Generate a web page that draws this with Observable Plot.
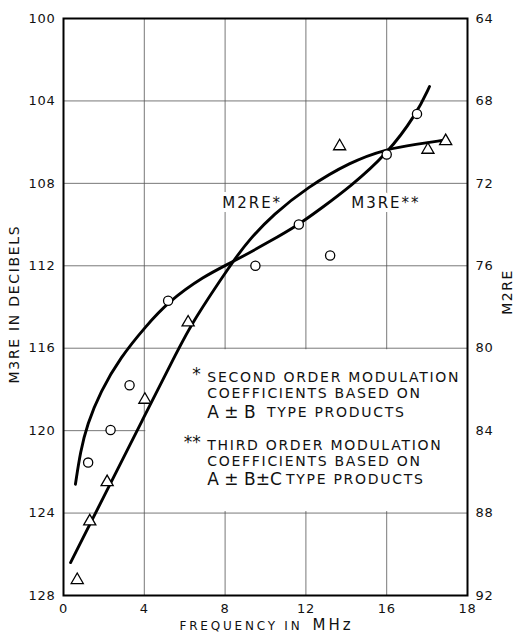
<!DOCTYPE html>
<html><head><meta charset="utf-8">
<script src="https://cdn.jsdelivr.net/npm/d3@7"></script>
<script src="https://cdn.jsdelivr.net/npm/@observablehq/plot@0.6"></script>
<style>
html,body{margin:0;padding:0;background:#fff;}
#chart svg{display:block;}
</style></head><body><div id="chart"></div>
<script>
// ---- tick labels ----
const xTicks = [0, 4, 8, 12, 16, 18];
const yTicks = [100, 104, 108, 112, 116, 120, 124, 128];       // M3RE in decibels (left)
const m2reTicks = [64, 68, 72, 76, 80, 84, 88, 92];             // M2RE (right)

// ---- measured points: M3RE (circles, left axis) ----
const circleFreq = [1.22, 2.33, 3.27, 5.18, 9.5, 11.65, 13.2, 16.0, 16.75];
const circleM3RE = [121.55, 119.97, 117.8, 113.7, 112.0, 110.0, 111.5, 106.6, 104.63];

// ---- measured points: M2RE (triangles, right axis) ----
const triFreq = [0.68, 1.3, 2.16, 4.03, 6.17, 13.67, 17.02, 17.46];
const triM2RE = [91.25, 88.4, 86.5, 82.5, 78.75, 70.2, 70.37, 69.95];

// ---- fitted curves ----
const m3reCurveFreq = [0.59, 0.84, 1.17, 1.83, 2.82, 4.06, 5.18, 6.95, 8.35, 10.25, 11.65, 12.72, 14.21, 16.0, 16.74, 17.06];
const m3reCurveVal  = [122.6, 121.0, 119.7, 118.1, 116.44, 114.95, 113.75, 112.5, 111.83, 110.8, 110.0, 109.24, 108.15, 106.6, 104.63, 103.3];
const m2reCurveFreq = [0.35, 2.1, 3.9, 5.71, 6.37, 8.35, 9.15, 10.4, 12.06, 14.21, 16.0, 16.74, 17.37];
const m2reCurveVal  = [90.4, 87.0, 83.5, 80.0, 78.75, 75.83, 74.78, 73.5, 72.2, 70.95, 70.33, 70.1, 69.92];

// ---- annotation texts ----
const seriesLabels = [
  {text: "M2RE*", f: 9.34, v: 108.98},
  {text: "M3RE**", f: 15.96, v: 108.97}
];
const noteSmall = [
  {text: "SECOND ORDER MODULATION", f: 7.12, v: 117.41},
  {text: "COEFFICIENTS BASED ON", f: 7.12, v: 118.2},
  {text: "TYPE PRODUCTS", f: 10.08, v: 119.11},
  {text: "THIRD ORDER MODULATION", f: 7.12, v: 120.73},
  {text: "COEFFICIENTS BASED ON", f: 7.12, v: 121.49},
  {text: "TYPE PRODUCTS", f: 11.02, v: 122.38}
];
const noteLarge = [
  {text: "A ± B", f: 7.12, v: 119.11},
  {text: "A ± B±C", f: 7.12, v: 122.38}
];
const noteStars = [
  {text: "*", f: 6.8, v: 117.3},
  {text: "**", f: 6.8, v: 120.6}
];
const noteBox = {x1: 4, x2: 18, y1: 116, y2: 124};
const xTitle = ["FREQUENCY IN", "MHz"];
const yTitle = "M3RE IN DECIBELS";
const y2Title = "M2RE";

// ---- build tables ----
const offset = yTicks[0] - m2reTicks[0]; // M3RE dB scale vs M2RE scale
const circles = circleFreq.map((f, i) => ({f, v: circleM3RE[i]}));
const triangles = triFreq.map((f, i) => ({f, v: triM2RE[i] + offset}));
const m3reCurve = m3reCurveFreq.map((f, i) => ({f, v: m3reCurveVal[i]}));
const m2reCurve = m2reCurveFreq.map((f, i) => ({f, v: m2reCurveVal[i] + offset}));

const W = 514, H = 635, mL = 63, mR = 47, mT = 18, mB = 40;
const x16 = mL + (W - mL - mR) * 0.8;

const chart = Plot.plot({
  width: W, height: H,
  marginLeft: mL, marginRight: mR, marginTop: mT, marginBottom: mB,
  style: {fontFamily: "'DejaVu Sans', sans-serif", fontSize: "13px", color: "#111", background: "#fff"},
  x: {type: "linear", domain: [0, 16, 18], range: [mL, x16, W - mR]},
  y: {type: "linear", domain: [yTicks[0], yTicks[yTicks.length - 1]], range: [mT, H - mB]},
  marks: [
    Plot.ruleX(xTicks.slice(1, -1), {stroke: "#555", strokeWidth: 0.8}),
    Plot.ruleY(yTicks.slice(1, -1), {stroke: "#555", strokeWidth: 0.8}),
    Plot.rect([noteBox], {x1: "x1", x2: "x2", y1: "y1", y2: "y2", fill: "white", insetLeft: 1.5, insetTop: 1.5, insetBottom: 1.5}),
    Plot.text(seriesLabels, {x: "f", y: "v", text: "text", fontSize: 15, fill: "#111", stroke: "white", strokeWidth: 8}),
    Plot.text(noteSmall, {x: "f", y: "v", text: "text", fontSize: 14, textAnchor: "start", fill: "#111"}),
    Plot.text(noteLarge, {x: "f", y: "v", text: "text", fontSize: 17, textAnchor: "start", fill: "#111"}),
    Plot.text(noteStars, {x: "f", y: "v", text: "text", fontSize: 17, textAnchor: "end", fill: "#111"}),
    Plot.text([yTitle], {text: d => d, frameAnchor: "left", dx: -49, dy: -3, rotate: -90, textAnchor: "middle", lineAnchor: "middle", fontSize: 14, fill: "#111"}),
    Plot.text([y2Title], {text: d => d, frameAnchor: "right", dx: 40, dy: -15, rotate: -90, textAnchor: "middle", lineAnchor: "middle", fontSize: 14, fill: "#111"}),
    Plot.text([xTitle[0]], {text: d => d, frameAnchor: "bottom", dx: 37, dy: 31, textAnchor: "end", lineAnchor: "middle", fontSize: 12, fill: "#111"}),
    Plot.text([xTitle[1]], {text: d => d, frameAnchor: "bottom", dx: 47, dy: 30, textAnchor: "start", lineAnchor: "middle", fontSize: 15, fill: "#111"}),
    Plot.line(m3reCurve, {x: "f", y: "v", curve: "basis", stroke: "black", strokeWidth: 2.9}),
    Plot.line(m2reCurve, {x: "f", y: "v", curve: "basis", stroke: "black", strokeWidth: 2.9}),
    Plot.dot(circles, {x: "f", y: "v", r: 4.6, stroke: "black", strokeWidth: 1.3, fill: "white"}),
    Plot.dot(triangles, {x: "f", y: "v", symbol: "triangle", r: 4.5, stroke: "black", strokeWidth: 1.3, fill: "white"}),
    Plot.frame({stroke: "black", strokeWidth: 2}),
    Plot.axisY({anchor: "left", ticks: yTicks, tickSize: 0, tickPadding: 8, label: null}),
    Plot.axisY({anchor: "right", ticks: yTicks, tickFormat: d => String(m2reTicks[yTicks.indexOf(d)]), tickSize: 0, tickPadding: 8, label: null}),
    Plot.axisX({ticks: xTicks, tickSize: 0, tickPadding: 8, label: null})
  ]
});

// letter spacing to mimic the wide lettering of the original
const spacing = [2, 1.7, 0, 0, 1.7, 1.5, 2.8, 3];
chart.querySelectorAll('g[aria-label="text"]').forEach((g, i) => {
  if (spacing[i]) g.setAttribute("letter-spacing", spacing[i]);
});
chart.querySelectorAll('g[aria-label$="tick label"]').forEach(g => g.setAttribute("letter-spacing", 0.7));

document.getElementById("chart").appendChild(chart);
</script></body></html>
